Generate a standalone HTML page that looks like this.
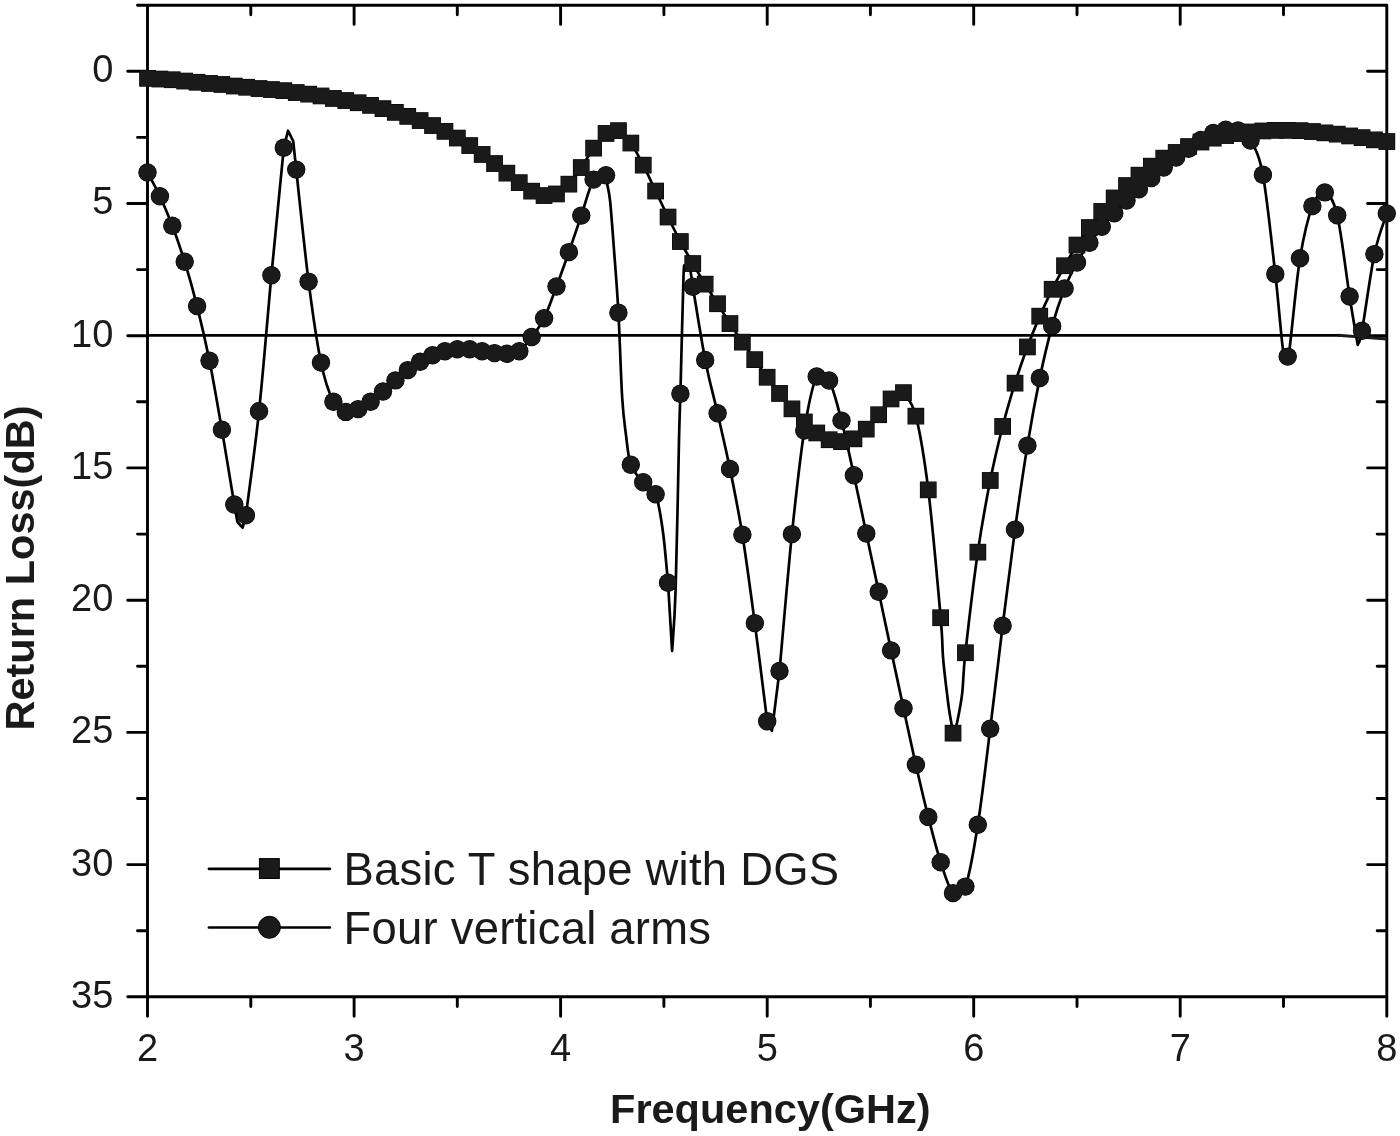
<!DOCTYPE html><html><head><meta charset="utf-8"><style>html,body{margin:0;padding:0;background:#fff;}svg{display:block;will-change:transform;}text{font-family:"Liberation Sans",sans-serif;fill:#1a1a1a;}</style></head><body>
<svg width="1400" height="1136" viewBox="0 0 1400 1136">
<rect width="1400" height="1136" fill="#fff"/>
<path d="M137.5 5.2 H1386.8 M147.5 5.2 V996.8 M1386.8 5.2 V996.8 M147.5 996.8 H1386.8 M147.5 996.8 V1016.3 M250.8 996.8 V1006.6 M250.8 5.2 V14.8 M354.1 996.8 V1016.3 M354.1 5.2 V24.4 M457.3 996.8 V1006.6 M457.3 5.2 V14.8 M560.6 996.8 V1016.3 M560.6 5.2 V24.4 M663.9 996.8 V1006.6 M663.9 5.2 V14.8 M767.2 996.8 V1016.3 M767.2 5.2 V24.4 M870.4 996.8 V1006.6 M870.4 5.2 V14.8 M973.7 996.8 V1016.3 M973.7 5.2 V24.4 M1077 996.8 V1006.6 M1077 5.2 V14.8 M1180.2 996.8 V1016.3 M1180.2 5.2 V24.4 M1283.5 996.8 V1006.6 M1283.5 5.2 V14.8 M1386.8 996.8 V1016.3 M147.5 71.3 H127.7 M1386.8 71.3 H1367.6 M147.5 137.4 H137.5 M1386.8 137.4 H1377.2 M147.5 203.5 H127.7 M1386.8 203.5 H1367.6 M147.5 269.6 H137.5 M1386.8 269.6 H1377.2 M147.5 335.7 H127.7 M1386.8 335.7 H1367.6 M147.5 401.8 H137.5 M1386.8 401.8 H1377.2 M147.5 467.9 H127.7 M1386.8 467.9 H1367.6 M147.5 534.1 H137.5 M1386.8 534.1 H1377.2 M147.5 600.2 H127.7 M1386.8 600.2 H1367.6 M147.5 666.3 H137.5 M1386.8 666.3 H1377.2 M147.5 732.4 H127.7 M1386.8 732.4 H1367.6 M147.5 798.5 H137.5 M1386.8 798.5 H1377.2 M147.5 864.6 H127.7 M1386.8 864.6 H1367.6 M147.5 930.7 H137.5 M1386.8 930.7 H1377.2 M147.5 996.8 H127.7" stroke="#000" stroke-width="2.9" fill="none" stroke-linecap="round"/>
<path d="M147.5 335.3 H1340" stroke="#000" stroke-width="2.7" fill="none"/>
<path d="M1338 335.3 L1386.8 339" stroke="#1a1a1a" stroke-width="2.9" fill="none"/>
<path d="M147.5 78.3 C149.6 78.4 155.8 78.8 159.9 79 C164 79.2 168.2 79.4 172.3 79.8 C176.4 80.1 180.5 80.6 184.7 81 C188.8 81.5 192.9 81.8 197.1 82.2 C201.2 82.7 205.3 83.1 209.5 83.5 C213.6 83.8 217.7 84 221.9 84.5 C226 84.9 230.1 85.6 234.3 86 C238.4 86.5 242.5 86.8 246.6 87.2 C250.8 87.7 254.9 88.1 259 88.5 C263.2 88.9 267.3 89.2 271.4 89.6 C275.6 90 279.7 90.2 283.8 90.7 C288 91.1 292.1 92 296.2 92.5 C300.3 93.1 304.5 93.6 308.6 94.2 C312.7 94.7 316.9 95.2 321 96 C325.1 96.7 329.3 97.7 333.4 98.5 C337.5 99.2 341.7 99.8 345.8 100.5 C349.9 101.3 354.1 102 358.2 102.8 C362.3 103.5 366.4 104.4 370.6 105.3 C374.7 106.3 378.8 107.5 383 108.7 C387.1 109.8 391.2 111.1 395.4 112.3 C399.5 113.6 403.6 114.9 407.8 116.3 C411.9 117.7 416 119 420.1 120.6 C424.3 122.1 428.4 123.8 432.5 125.6 C436.7 127.4 440.8 129.2 444.9 131.3 C449.1 133.4 453.2 135.6 457.3 138 C461.5 140.4 465.6 142.9 469.7 145.6 C473.8 148.3 478 151.4 482.1 154.4 C486.2 157.4 490.4 160.4 494.5 163.5 C498.6 166.6 502.8 169.9 506.9 173.1 C511 176.3 515.2 179.7 519.3 182.7 C523.4 185.7 527.6 189.1 531.7 191.2 C535.8 193.3 539.9 195.1 544.1 195.5 C548.2 195.9 552.3 195.8 556.5 193.9 C560.6 192 564.7 188.6 568.9 184.2 C573 179.8 577.1 173.5 581.3 167.5 C585.4 161.5 589.5 153.8 593.6 148.1 C597.8 142.4 601.9 136.3 606 133.4 C610.2 130.5 616.4 131.1 618.4 130.7 C620.5 132.8 626.7 137.2 630.8 143 C635 148.8 639.1 157.2 643.2 165.2 C647.4 173.2 651.5 182.4 655.6 191 C659.7 199.6 663.9 208.6 668 217 C672.1 225.4 676.3 233.8 680.4 241.5 C684.5 249.2 688.7 256.4 692.8 263.5 C696.9 270.6 701.1 277.5 705.2 284.2 C709.3 290.9 713.4 297.2 717.6 303.8 C721.7 310.4 725.8 317.2 730 323.6 C734.1 330 738.2 336.1 742.4 342.1 C746.5 348.1 750.6 353.8 754.8 359.7 C758.9 365.6 763 371.7 767.2 377.3 C771.3 382.9 775.4 388.2 779.5 393.5 C783.7 398.8 787.8 404.1 791.9 408.9 C796.1 413.6 800.2 418 804.3 422 C808.5 426 812.6 430 816.7 433 C820.9 436 825 438.4 829.1 439.8 C833.2 441.2 837.4 441.9 841.5 441.7 C845.6 441.5 849.8 441 853.9 438.9 C858 436.8 862.2 433.2 866.3 429.2 C870.4 425.2 874.6 419.8 878.7 414.8 C882.8 409.8 886.9 402.7 891.1 399 C895.2 395.3 901.4 393.8 903.5 392.7 C905.5 396.6 911.7 400 915.9 416.2 C920 432.4 924.1 456.3 928.3 489.9 C932.4 523.5 938.2 589.5 940.7 617.8 C943.1 646 941.9 644.8 943.2 659.4 C944.5 674 947.1 694.5 948.5 705.5 C949.9 716.5 950.9 720.3 951.8 725.3 C952.7 730.3 953.7 733.8 954.1 735.5 C954.5 733.8 955.7 728.5 956.4 725.3 C957.1 722.1 957.4 721.6 958.4 716.1 C959.4 710.6 961.1 702.9 962.3 692.3 C963.5 681.7 962.8 676.1 965.4 652.7 C968 629.3 973.7 580.8 977.8 552.1 C982 523.4 986.1 501.4 990.2 480.5 C994.4 459.6 998.5 442.7 1002.6 426.5 C1006.7 410.3 1010.9 396.4 1015 383.1 C1019.1 369.9 1023.3 358.2 1027.4 347 C1031.5 335.8 1035.7 325.7 1039.8 316.1 C1043.9 306.5 1048.1 297.7 1052.2 289.3 C1056.3 280.9 1060.5 273.2 1064.6 265.8 C1068.7 258.4 1072.8 251.4 1077 245 C1081.1 238.6 1085.2 233.2 1089.4 227.6 C1093.5 222 1097.6 216.3 1101.8 211.4 C1105.9 206.5 1110 202.2 1114.2 197.9 C1118.3 193.6 1122.4 189.4 1126.5 185.6 C1130.7 181.8 1134.8 178.3 1138.9 175.1 C1143.1 171.9 1147.2 169 1151.3 166.2 C1155.5 163.4 1159.6 160.5 1163.7 158.2 C1167.9 155.9 1172 154.3 1176.1 152.4 C1180.3 150.5 1184.4 148.3 1188.5 146.6 C1192.6 144.9 1196.8 143.4 1200.9 142 C1205 140.6 1209.2 139.2 1213.3 138.1 C1217.4 137 1221.6 136.4 1225.7 135.6 C1229.8 134.8 1234 134.1 1238.1 133.5 C1242.2 132.9 1246.3 132.3 1250.5 131.9 C1254.6 131.5 1258.7 131.2 1262.9 130.9 C1267 130.6 1271.1 130.4 1275.3 130.3 C1279.4 130.2 1283.5 130.2 1287.7 130.3 C1291.8 130.4 1295.9 130.5 1300 130.7 C1304.2 130.9 1308.3 131.2 1312.4 131.5 C1316.6 131.8 1320.7 132.4 1324.8 132.8 C1329 133.2 1333.1 133.7 1337.2 134.2 C1341.4 134.7 1345.5 135.3 1349.6 135.9 C1353.8 136.5 1357.9 137 1362 137.7 C1366.1 138.3 1370.3 139.2 1374.4 139.8 C1378.5 140.4 1384.7 141.2 1386.8 141.5" stroke="#000" stroke-width="2.7" fill="none" stroke-linejoin="round"/>
<path d="M147.5 172.5 C149.6 176.4 155.8 187.3 159.9 196.2 C164 205.1 168.2 214.9 172.3 225.8 C176.4 236.7 180.5 248.3 184.7 261.7 C188.8 275.1 192.9 289.6 197.1 306.1 C201.2 322.6 205.3 340.2 209.5 360.8 C213.6 381.4 217.7 405.8 221.9 429.7 C226 453.6 232.2 492 234.3 504.5 C234.8 507.4 236.9 518.9 237.4 521.8 C238.3 522.8 241.7 526.7 242.6 527.7 C243.2 525.6 245.3 517.3 245.9 515.2 C248.1 497.9 254.8 451.3 259 411.3 C263.3 371.3 267.3 319.2 271.4 275.3 C275.6 231.4 281.8 169 283.8 147.7 C284.5 144.9 287.3 133.5 288 130.7 C288.9 132.4 292.3 139.3 293.2 141 C293.7 145.8 295.7 164.8 296.2 169.6 C298.3 188.3 304.5 249.4 308.6 281.6 C312.7 313.8 316.9 342.6 321 362.6 C325.1 382.6 329.3 393.5 333.4 401.7 C337.5 409.9 341.7 410.7 345.8 411.9 C349.9 413.1 354.1 410.8 358.2 409.1 C362.3 407.4 366.4 404.6 370.6 401.7 C374.7 398.8 378.8 395.1 383 391.5 C387.1 387.9 391.2 384 395.4 380.4 C399.5 376.8 403.6 373.2 407.8 370.1 C411.9 367 416 364.3 420.1 361.8 C424.3 359.3 428.4 357.1 432.5 355.3 C436.7 353.5 440.8 352.2 444.9 351.2 C449.1 350.2 453.2 349.6 457.3 349.3 C461.5 349 465.6 349 469.7 349.3 C473.8 349.6 478 350.6 482.1 351.2 C486.2 351.8 490.4 352.7 494.5 353.1 C498.6 353.5 502.8 354.1 506.9 353.8 C511 353.5 515.2 354 519.3 351.2 C523.4 348.4 527.6 342.5 531.7 337 C535.8 331.5 539.9 326.7 544.1 318.3 C548.2 309.9 552.3 297.5 556.5 286.5 C560.6 275.5 564.7 263.9 568.9 252.1 C573 240.3 577.1 227.7 581.3 215.6 C585.4 203.5 589.5 186.3 593.6 179.6 C597.8 172.9 603.8 174.5 606 175.2 C608.3 175.9 606.5 179.6 607.2 184 C607.9 188.4 609.1 190.9 610.2 201.9 C611.3 212.9 612.6 231.3 614 249.8 C615.4 268.3 617.1 288.1 618.4 312.8 C619.8 337.5 620.9 377.6 622.2 398 C623.5 418.4 624.6 423.9 626 435 C627.4 446.1 628 456.9 630.8 464.8 C633.7 472.7 639.1 477.3 643.2 482.2 C647.4 487.1 653.1 490.4 655.6 494.2 C658.2 498 657.4 499.9 658.5 505 C659.6 510.1 661 518.3 662 525 C663 531.7 663.5 535.4 664.5 545 C665.5 554.6 667.4 576.5 668 582.8 C668.7 594.2 671.4 639.6 672.1 651 C672.7 640.8 674.5 625.2 675.6 590 C676.8 554.8 678.2 472.7 679 440 C679.8 407.3 680.2 401.4 680.4 393.7 C680.9 374.8 682.7 301.4 683.4 280 C684.1 258.6 684.3 267.9 684.5 265.5 C685.3 265.8 688.1 263.5 689.5 267 C690.9 270.5 692.2 283.4 692.8 286.7 C694.9 298.9 701.1 338.8 705.2 359.9 C709.3 381 713.4 395.1 717.6 413.3 C721.7 431.5 725.8 448.7 730 468.9 C734.1 489.1 738.2 509 742.4 534.7 C746.5 560.4 750.6 592 754.8 623.1 C758.9 654.2 765.1 704.9 767.2 721.3 C767.9 722.9 771.1 729.2 771.9 730.8 C773.2 720.8 778.3 681 779.5 671 C781.6 648.2 787.8 574.2 791.9 534.1 C796.1 494 800.2 456.8 804.3 430.5 C808.5 404.2 812.6 384.8 816.7 376.5 C820.9 368.2 825 373.1 829.1 380.5 C833.2 387.9 837.4 404.8 841.5 420.6 C845.6 436.4 849.8 456.4 853.9 475.2 C858 494 862.2 514.1 866.3 533.5 C870.4 552.9 874.6 572.3 878.7 591.8 C882.8 611.3 886.9 631 891.1 650.4 C895.2 669.8 899.3 689.2 903.5 708.2 C907.6 727.2 911.7 746.6 915.9 764.7 C920 782.8 924.1 800.6 928.3 816.9 C932.4 833.1 936.5 849.5 940.7 862.2 C944.8 874.9 948.9 889 953 893.1 C957.2 897.2 961.3 898 965.4 886.6 C969.6 875.2 973.7 851.1 977.8 824.8 C982 798.5 986.1 762 990.2 728.8 C994.4 695.6 998.5 659 1002.6 625.8 C1006.7 592.6 1010.9 559.6 1015 529.6 C1019.1 499.6 1023.3 470.9 1027.4 445.6 C1031.5 420.3 1035.7 397.9 1039.8 378 C1043.9 358.1 1048.1 340.8 1052.2 325.9 C1056.3 311 1060.5 299.1 1064.6 288.5 C1068.7 277.9 1072.8 270.2 1077 262.6 C1081.1 255 1085.2 248.8 1089.4 242.8 C1093.5 236.8 1097.6 231.7 1101.8 226.8 C1105.9 221.9 1110 217.7 1114.2 213.3 C1118.3 208.9 1122.4 204.6 1126.5 200.6 C1130.7 196.6 1134.8 193.1 1138.9 189.3 C1143.1 185.6 1147.2 181.7 1151.3 178.1 C1155.5 174.5 1159.6 171 1163.7 167.6 C1167.9 164.2 1172 160.7 1176.1 157.5 C1180.3 154.3 1184.4 151.6 1188.5 148.7 C1192.6 145.8 1196.8 142.6 1200.9 140 C1205 137.4 1209.2 134.7 1213.3 133 C1217.4 131.3 1221.6 130.2 1225.7 129.8 C1229.8 129.4 1234 128.6 1238.1 130.4 C1242.2 132.2 1246.3 133.1 1250.5 140.5 C1254.6 147.9 1258.7 152.6 1262.9 174.8 C1267 197.1 1271.9 245.1 1275.3 274 C1278.6 302.9 1280.9 333.8 1282.8 348.2 C1284.7 362.6 1285.8 358.4 1286.4 360.5 C1286.9 358.4 1287.3 365.2 1289.6 348.2 C1291.9 331.1 1296.2 281.9 1300 258.2 C1303.9 234.5 1308.3 217.1 1312.4 206.1 C1316.6 195.1 1320.7 190.9 1324.8 192.4 C1329 193.9 1333.1 197.8 1337.2 215.2 C1341.4 232.5 1346.2 274.9 1349.6 296.5 C1353 318.1 1356.4 336.8 1357.7 344.8 C1358.4 342.4 1359.2 345.8 1362 330.7 C1364.8 315.6 1370.3 273.6 1374.4 254.1 C1378.5 234.6 1384.7 220.2 1386.8 213.4" stroke="#000" stroke-width="2.7" fill="none" stroke-linejoin="round"/>
<g fill="#000">
<rect x="139.2" y="70" width="16.7" height="16.7"/>
<rect x="151.5" y="70.7" width="16.7" height="16.7"/>
<rect x="163.9" y="71.4" width="16.7" height="16.7"/>
<rect x="176.3" y="72.7" width="16.7" height="16.7"/>
<rect x="188.7" y="73.9" width="16.7" height="16.7"/>
<rect x="201.1" y="75.1" width="16.7" height="16.7"/>
<rect x="213.5" y="76.1" width="16.7" height="16.7"/>
<rect x="225.9" y="77.7" width="16.7" height="16.7"/>
<rect x="238.3" y="78.9" width="16.7" height="16.7"/>
<rect x="250.7" y="80.2" width="16.7" height="16.7"/>
<rect x="263.1" y="81.2" width="16.7" height="16.7"/>
<rect x="275.5" y="82.3" width="16.7" height="16.7"/>
<rect x="287.9" y="84.2" width="16.7" height="16.7"/>
<rect x="300.3" y="85.8" width="16.7" height="16.7"/>
<rect x="312.7" y="87.6" width="16.7" height="16.7"/>
<rect x="325" y="90.1" width="16.7" height="16.7"/>
<rect x="337.4" y="92.2" width="16.7" height="16.7"/>
<rect x="349.8" y="94.4" width="16.7" height="16.7"/>
<rect x="362.2" y="97" width="16.7" height="16.7"/>
<rect x="374.6" y="100.3" width="16.7" height="16.7"/>
<rect x="387" y="104" width="16.7" height="16.7"/>
<rect x="399.4" y="108" width="16.7" height="16.7"/>
<rect x="411.8" y="112.2" width="16.7" height="16.7"/>
<rect x="424.2" y="117.2" width="16.7" height="16.7"/>
<rect x="436.6" y="123" width="16.7" height="16.7"/>
<rect x="449" y="129.7" width="16.7" height="16.7"/>
<rect x="461.4" y="137.2" width="16.7" height="16.7"/>
<rect x="473.8" y="146.1" width="16.7" height="16.7"/>
<rect x="486.2" y="155.2" width="16.7" height="16.7"/>
<rect x="498.5" y="164.8" width="16.7" height="16.7"/>
<rect x="510.9" y="174.3" width="16.7" height="16.7"/>
<rect x="523.3" y="182.8" width="16.7" height="16.7"/>
<rect x="535.7" y="187.2" width="16.7" height="16.7"/>
<rect x="548.1" y="185.6" width="16.7" height="16.7"/>
<rect x="560.5" y="175.8" width="16.7" height="16.7"/>
<rect x="572.9" y="159.2" width="16.7" height="16.7"/>
<rect x="585.3" y="139.8" width="16.7" height="16.7"/>
<rect x="597.7" y="125.1" width="16.7" height="16.7"/>
<rect x="610.1" y="122.3" width="16.7" height="16.7"/>
<rect x="622.5" y="134.7" width="16.7" height="16.7"/>
<rect x="634.9" y="156.8" width="16.7" height="16.7"/>
<rect x="647.3" y="182.7" width="16.7" height="16.7"/>
<rect x="659.7" y="208.7" width="16.7" height="16.7"/>
<rect x="672" y="233.2" width="16.7" height="16.7"/>
<rect x="684.4" y="255.2" width="16.7" height="16.7"/>
<rect x="696.8" y="275.8" width="16.7" height="16.7"/>
<rect x="709.2" y="295.4" width="16.7" height="16.7"/>
<rect x="721.6" y="315.2" width="16.7" height="16.7"/>
<rect x="734" y="333.8" width="16.7" height="16.7"/>
<rect x="746.4" y="351.3" width="16.7" height="16.7"/>
<rect x="758.8" y="368.9" width="16.7" height="16.7"/>
<rect x="771.2" y="385.1" width="16.7" height="16.7"/>
<rect x="783.6" y="400.5" width="16.7" height="16.7"/>
<rect x="796" y="413.6" width="16.7" height="16.7"/>
<rect x="808.4" y="424.6" width="16.7" height="16.7"/>
<rect x="820.8" y="431.4" width="16.7" height="16.7"/>
<rect x="833.2" y="433.3" width="16.7" height="16.7"/>
<rect x="845.6" y="430.5" width="16.7" height="16.7"/>
<rect x="857.9" y="420.8" width="16.7" height="16.7"/>
<rect x="870.3" y="406.4" width="16.7" height="16.7"/>
<rect x="882.7" y="390.6" width="16.7" height="16.7"/>
<rect x="895.1" y="384.3" width="16.7" height="16.7"/>
<rect x="907.5" y="407.8" width="16.7" height="16.7"/>
<rect x="919.9" y="481.5" width="16.7" height="16.7"/>
<rect x="932.3" y="609.4" width="16.7" height="16.7"/>
<rect x="944.7" y="724.8" width="16.7" height="16.7"/>
<rect x="957.1" y="644.4" width="16.7" height="16.7"/>
<rect x="969.5" y="543.8" width="16.7" height="16.7"/>
<rect x="981.9" y="472.1" width="16.7" height="16.7"/>
<rect x="994.3" y="418.1" width="16.7" height="16.7"/>
<rect x="1006.7" y="374.8" width="16.7" height="16.7"/>
<rect x="1019.1" y="338.6" width="16.7" height="16.7"/>
<rect x="1031.4" y="307.8" width="16.7" height="16.7"/>
<rect x="1043.8" y="280.9" width="16.7" height="16.7"/>
<rect x="1056.2" y="257.4" width="16.7" height="16.7"/>
<rect x="1068.6" y="236.7" width="16.7" height="16.7"/>
<rect x="1081" y="219.2" width="16.7" height="16.7"/>
<rect x="1093.4" y="203.1" width="16.7" height="16.7"/>
<rect x="1105.8" y="189.6" width="16.7" height="16.7"/>
<rect x="1118.2" y="177.2" width="16.7" height="16.7"/>
<rect x="1130.6" y="166.8" width="16.7" height="16.7"/>
<rect x="1143" y="157.8" width="16.7" height="16.7"/>
<rect x="1155.4" y="149.8" width="16.7" height="16.7"/>
<rect x="1167.8" y="144.1" width="16.7" height="16.7"/>
<rect x="1180.2" y="138.2" width="16.7" height="16.7"/>
<rect x="1192.6" y="133.7" width="16.7" height="16.7"/>
<rect x="1204.9" y="129.8" width="16.7" height="16.7"/>
<rect x="1217.3" y="127.2" width="16.7" height="16.7"/>
<rect x="1229.7" y="125.2" width="16.7" height="16.7"/>
<rect x="1242.1" y="123.6" width="16.7" height="16.7"/>
<rect x="1254.5" y="122.6" width="16.7" height="16.7"/>
<rect x="1266.9" y="122" width="16.7" height="16.7"/>
<rect x="1279.3" y="122" width="16.7" height="16.7"/>
<rect x="1291.7" y="122.3" width="16.7" height="16.7"/>
<rect x="1304.1" y="123.2" width="16.7" height="16.7"/>
<rect x="1316.5" y="124.5" width="16.7" height="16.7"/>
<rect x="1328.9" y="125.8" width="16.7" height="16.7"/>
<rect x="1341.3" y="127.6" width="16.7" height="16.7"/>
<rect x="1353.7" y="129.3" width="16.7" height="16.7"/>
<rect x="1366.1" y="131.5" width="16.7" height="16.7"/>
<rect x="1378.5" y="133.2" width="16.7" height="16.7"/>
<circle cx="147.5" cy="172.5" r="9.2"/>
<circle cx="159.9" cy="196.2" r="9.2"/>
<circle cx="172.3" cy="225.8" r="9.2"/>
<circle cx="184.7" cy="261.7" r="9.2"/>
<circle cx="197.1" cy="306.1" r="9.2"/>
<circle cx="209.5" cy="360.8" r="9.2"/>
<circle cx="221.9" cy="429.7" r="9.2"/>
<circle cx="234.3" cy="504.5" r="9.2"/>
<circle cx="245.9" cy="515.2" r="9.2"/>
<circle cx="259" cy="411.3" r="9.2"/>
<circle cx="271.4" cy="275.3" r="9.2"/>
<circle cx="283.8" cy="147.7" r="9.2"/>
<circle cx="296.2" cy="169.6" r="9.2"/>
<circle cx="308.6" cy="281.6" r="9.2"/>
<circle cx="321" cy="362.6" r="9.2"/>
<circle cx="333.4" cy="401.7" r="9.2"/>
<circle cx="345.8" cy="411.9" r="9.2"/>
<circle cx="358.2" cy="409.1" r="9.2"/>
<circle cx="370.6" cy="401.7" r="9.2"/>
<circle cx="383" cy="391.5" r="9.2"/>
<circle cx="395.4" cy="380.4" r="9.2"/>
<circle cx="407.8" cy="370.1" r="9.2"/>
<circle cx="420.1" cy="361.8" r="9.2"/>
<circle cx="432.5" cy="355.3" r="9.2"/>
<circle cx="444.9" cy="351.2" r="9.2"/>
<circle cx="457.3" cy="349.3" r="9.2"/>
<circle cx="469.7" cy="349.3" r="9.2"/>
<circle cx="482.1" cy="351.2" r="9.2"/>
<circle cx="494.5" cy="353.1" r="9.2"/>
<circle cx="506.9" cy="353.8" r="9.2"/>
<circle cx="519.3" cy="351.2" r="9.2"/>
<circle cx="531.7" cy="337" r="9.2"/>
<circle cx="544.1" cy="318.3" r="9.2"/>
<circle cx="556.5" cy="286.5" r="9.2"/>
<circle cx="568.9" cy="252.1" r="9.2"/>
<circle cx="581.3" cy="215.6" r="9.2"/>
<circle cx="593.6" cy="179.6" r="9.2"/>
<circle cx="606" cy="175.2" r="9.2"/>
<circle cx="618.4" cy="312.8" r="9.2"/>
<circle cx="630.8" cy="464.8" r="9.2"/>
<circle cx="643.2" cy="482.2" r="9.2"/>
<circle cx="655.6" cy="494.2" r="9.2"/>
<circle cx="668" cy="582.8" r="9.2"/>
<circle cx="680.4" cy="393.7" r="9.2"/>
<circle cx="692.8" cy="286.7" r="9.2"/>
<circle cx="705.2" cy="359.9" r="9.2"/>
<circle cx="717.6" cy="413.3" r="9.2"/>
<circle cx="730" cy="468.9" r="9.2"/>
<circle cx="742.4" cy="534.7" r="9.2"/>
<circle cx="754.8" cy="623.1" r="9.2"/>
<circle cx="767.2" cy="721.3" r="9.2"/>
<circle cx="779.5" cy="671" r="9.2"/>
<circle cx="791.9" cy="534.1" r="9.2"/>
<circle cx="804.3" cy="430.5" r="9.2"/>
<circle cx="816.7" cy="376.5" r="9.2"/>
<circle cx="829.1" cy="380.5" r="9.2"/>
<circle cx="841.5" cy="420.6" r="9.2"/>
<circle cx="853.9" cy="475.2" r="9.2"/>
<circle cx="866.3" cy="533.5" r="9.2"/>
<circle cx="878.7" cy="591.8" r="9.2"/>
<circle cx="891.1" cy="650.4" r="9.2"/>
<circle cx="903.5" cy="708.2" r="9.2"/>
<circle cx="915.9" cy="764.7" r="9.2"/>
<circle cx="928.3" cy="816.9" r="9.2"/>
<circle cx="940.7" cy="862.2" r="9.2"/>
<circle cx="953" cy="893.1" r="9.2"/>
<circle cx="965.4" cy="886.6" r="9.2"/>
<circle cx="977.8" cy="824.8" r="9.2"/>
<circle cx="990.2" cy="728.8" r="9.2"/>
<circle cx="1002.6" cy="625.8" r="9.2"/>
<circle cx="1015" cy="529.6" r="9.2"/>
<circle cx="1027.4" cy="445.6" r="9.2"/>
<circle cx="1039.8" cy="378" r="9.2"/>
<circle cx="1052.2" cy="325.9" r="9.2"/>
<circle cx="1064.6" cy="288.5" r="9.2"/>
<circle cx="1077" cy="262.6" r="9.2"/>
<circle cx="1089.4" cy="242.8" r="9.2"/>
<circle cx="1101.8" cy="226.8" r="9.2"/>
<circle cx="1114.2" cy="213.3" r="9.2"/>
<circle cx="1126.5" cy="200.6" r="9.2"/>
<circle cx="1138.9" cy="189.3" r="9.2"/>
<circle cx="1151.3" cy="178.1" r="9.2"/>
<circle cx="1163.7" cy="167.6" r="9.2"/>
<circle cx="1176.1" cy="157.5" r="9.2"/>
<circle cx="1188.5" cy="148.7" r="9.2"/>
<circle cx="1200.9" cy="140" r="9.2"/>
<circle cx="1213.3" cy="133" r="9.2"/>
<circle cx="1225.7" cy="129.8" r="9.2"/>
<circle cx="1238.1" cy="130.4" r="9.2"/>
<circle cx="1250.5" cy="140.5" r="9.2"/>
<circle cx="1262.9" cy="174.8" r="9.2"/>
<circle cx="1275.3" cy="274" r="9.2"/>
<circle cx="1287.7" cy="356.6" r="9.2"/>
<circle cx="1300" cy="258.2" r="9.2"/>
<circle cx="1312.4" cy="206.1" r="9.2"/>
<circle cx="1324.8" cy="192.4" r="9.2"/>
<circle cx="1337.2" cy="215.2" r="9.2"/>
<circle cx="1349.6" cy="296.5" r="9.2"/>
<circle cx="1362" cy="330.7" r="9.2"/>
<circle cx="1374.4" cy="254.1" r="9.2"/>
<circle cx="1386.8" cy="213.4" r="9.2"/>
</g><g fill="#1a1a1a">
<rect x="139.7" y="70.5" width="15.7" height="15.7"/>
<rect x="152" y="71.2" width="15.7" height="15.7"/>
<rect x="164.4" y="71.9" width="15.7" height="15.7"/>
<rect x="176.8" y="73.2" width="15.7" height="15.7"/>
<rect x="189.2" y="74.4" width="15.7" height="15.7"/>
<rect x="201.6" y="75.6" width="15.7" height="15.7"/>
<rect x="214" y="76.6" width="15.7" height="15.7"/>
<rect x="226.4" y="78.2" width="15.7" height="15.7"/>
<rect x="238.8" y="79.4" width="15.7" height="15.7"/>
<rect x="251.2" y="80.7" width="15.7" height="15.7"/>
<rect x="263.6" y="81.8" width="15.7" height="15.7"/>
<rect x="276" y="82.8" width="15.7" height="15.7"/>
<rect x="288.4" y="84.7" width="15.7" height="15.7"/>
<rect x="300.8" y="86.3" width="15.7" height="15.7"/>
<rect x="313.2" y="88.1" width="15.7" height="15.7"/>
<rect x="325.5" y="90.6" width="15.7" height="15.7"/>
<rect x="337.9" y="92.7" width="15.7" height="15.7"/>
<rect x="350.3" y="94.9" width="15.7" height="15.7"/>
<rect x="362.7" y="97.5" width="15.7" height="15.7"/>
<rect x="375.1" y="100.8" width="15.7" height="15.7"/>
<rect x="387.5" y="104.5" width="15.7" height="15.7"/>
<rect x="399.9" y="108.5" width="15.7" height="15.7"/>
<rect x="412.3" y="112.8" width="15.7" height="15.7"/>
<rect x="424.7" y="117.8" width="15.7" height="15.7"/>
<rect x="437.1" y="123.5" width="15.7" height="15.7"/>
<rect x="449.5" y="130.2" width="15.7" height="15.7"/>
<rect x="461.9" y="137.8" width="15.7" height="15.7"/>
<rect x="474.3" y="146.6" width="15.7" height="15.7"/>
<rect x="486.7" y="155.7" width="15.7" height="15.7"/>
<rect x="499" y="165.2" width="15.7" height="15.7"/>
<rect x="511.4" y="174.8" width="15.7" height="15.7"/>
<rect x="523.8" y="183.3" width="15.7" height="15.7"/>
<rect x="536.2" y="187.7" width="15.7" height="15.7"/>
<rect x="548.6" y="186.1" width="15.7" height="15.7"/>
<rect x="561" y="176.3" width="15.7" height="15.7"/>
<rect x="573.4" y="159.7" width="15.7" height="15.7"/>
<rect x="585.8" y="140.2" width="15.7" height="15.7"/>
<rect x="598.2" y="125.6" width="15.7" height="15.7"/>
<rect x="610.6" y="122.8" width="15.7" height="15.7"/>
<rect x="623" y="135.2" width="15.7" height="15.7"/>
<rect x="635.4" y="157.3" width="15.7" height="15.7"/>
<rect x="647.8" y="183.2" width="15.7" height="15.7"/>
<rect x="660.2" y="209.2" width="15.7" height="15.7"/>
<rect x="672.5" y="233.7" width="15.7" height="15.7"/>
<rect x="684.9" y="255.7" width="15.7" height="15.7"/>
<rect x="697.3" y="276.3" width="15.7" height="15.7"/>
<rect x="709.7" y="295.9" width="15.7" height="15.7"/>
<rect x="722.1" y="315.8" width="15.7" height="15.7"/>
<rect x="734.5" y="334.2" width="15.7" height="15.7"/>
<rect x="746.9" y="351.8" width="15.7" height="15.7"/>
<rect x="759.3" y="369.4" width="15.7" height="15.7"/>
<rect x="771.7" y="385.6" width="15.7" height="15.7"/>
<rect x="784.1" y="401" width="15.7" height="15.7"/>
<rect x="796.5" y="414.1" width="15.7" height="15.7"/>
<rect x="808.9" y="425.1" width="15.7" height="15.7"/>
<rect x="821.3" y="431.9" width="15.7" height="15.7"/>
<rect x="833.7" y="433.8" width="15.7" height="15.7"/>
<rect x="846.1" y="431" width="15.7" height="15.7"/>
<rect x="858.4" y="421.3" width="15.7" height="15.7"/>
<rect x="870.8" y="406.9" width="15.7" height="15.7"/>
<rect x="883.2" y="391.1" width="15.7" height="15.7"/>
<rect x="895.6" y="384.8" width="15.7" height="15.7"/>
<rect x="908" y="408.3" width="15.7" height="15.7"/>
<rect x="920.4" y="482" width="15.7" height="15.7"/>
<rect x="932.8" y="609.9" width="15.7" height="15.7"/>
<rect x="945.2" y="725.2" width="15.7" height="15.7"/>
<rect x="957.6" y="644.9" width="15.7" height="15.7"/>
<rect x="970" y="544.2" width="15.7" height="15.7"/>
<rect x="982.4" y="472.6" width="15.7" height="15.7"/>
<rect x="994.8" y="418.6" width="15.7" height="15.7"/>
<rect x="1007.2" y="375.2" width="15.7" height="15.7"/>
<rect x="1019.6" y="339.1" width="15.7" height="15.7"/>
<rect x="1031.9" y="308.2" width="15.7" height="15.7"/>
<rect x="1044.3" y="281.4" width="15.7" height="15.7"/>
<rect x="1056.7" y="257.9" width="15.7" height="15.7"/>
<rect x="1069.1" y="237.2" width="15.7" height="15.7"/>
<rect x="1081.5" y="219.8" width="15.7" height="15.7"/>
<rect x="1093.9" y="203.6" width="15.7" height="15.7"/>
<rect x="1106.3" y="190.1" width="15.7" height="15.7"/>
<rect x="1118.7" y="177.8" width="15.7" height="15.7"/>
<rect x="1131.1" y="167.2" width="15.7" height="15.7"/>
<rect x="1143.5" y="158.3" width="15.7" height="15.7"/>
<rect x="1155.9" y="150.3" width="15.7" height="15.7"/>
<rect x="1168.3" y="144.6" width="15.7" height="15.7"/>
<rect x="1180.7" y="138.8" width="15.7" height="15.7"/>
<rect x="1193.1" y="134.2" width="15.7" height="15.7"/>
<rect x="1205.4" y="130.2" width="15.7" height="15.7"/>
<rect x="1217.8" y="127.8" width="15.7" height="15.7"/>
<rect x="1230.2" y="125.7" width="15.7" height="15.7"/>
<rect x="1242.6" y="124.1" width="15.7" height="15.7"/>
<rect x="1255" y="123.1" width="15.7" height="15.7"/>
<rect x="1267.4" y="122.5" width="15.7" height="15.7"/>
<rect x="1279.8" y="122.5" width="15.7" height="15.7"/>
<rect x="1292.2" y="122.8" width="15.7" height="15.7"/>
<rect x="1304.6" y="123.7" width="15.7" height="15.7"/>
<rect x="1317" y="125" width="15.7" height="15.7"/>
<rect x="1329.4" y="126.3" width="15.7" height="15.7"/>
<rect x="1341.8" y="128.1" width="15.7" height="15.7"/>
<rect x="1354.2" y="129.8" width="15.7" height="15.7"/>
<rect x="1366.6" y="132" width="15.7" height="15.7"/>
<rect x="1379" y="133.7" width="15.7" height="15.7"/>
<circle cx="147.5" cy="172.5" r="8.7"/>
<circle cx="159.9" cy="196.2" r="8.7"/>
<circle cx="172.3" cy="225.8" r="8.7"/>
<circle cx="184.7" cy="261.7" r="8.7"/>
<circle cx="197.1" cy="306.1" r="8.7"/>
<circle cx="209.5" cy="360.8" r="8.7"/>
<circle cx="221.9" cy="429.7" r="8.7"/>
<circle cx="234.3" cy="504.5" r="8.7"/>
<circle cx="245.9" cy="515.2" r="8.7"/>
<circle cx="259" cy="411.3" r="8.7"/>
<circle cx="271.4" cy="275.3" r="8.7"/>
<circle cx="283.8" cy="147.7" r="8.7"/>
<circle cx="296.2" cy="169.6" r="8.7"/>
<circle cx="308.6" cy="281.6" r="8.7"/>
<circle cx="321" cy="362.6" r="8.7"/>
<circle cx="333.4" cy="401.7" r="8.7"/>
<circle cx="345.8" cy="411.9" r="8.7"/>
<circle cx="358.2" cy="409.1" r="8.7"/>
<circle cx="370.6" cy="401.7" r="8.7"/>
<circle cx="383" cy="391.5" r="8.7"/>
<circle cx="395.4" cy="380.4" r="8.7"/>
<circle cx="407.8" cy="370.1" r="8.7"/>
<circle cx="420.1" cy="361.8" r="8.7"/>
<circle cx="432.5" cy="355.3" r="8.7"/>
<circle cx="444.9" cy="351.2" r="8.7"/>
<circle cx="457.3" cy="349.3" r="8.7"/>
<circle cx="469.7" cy="349.3" r="8.7"/>
<circle cx="482.1" cy="351.2" r="8.7"/>
<circle cx="494.5" cy="353.1" r="8.7"/>
<circle cx="506.9" cy="353.8" r="8.7"/>
<circle cx="519.3" cy="351.2" r="8.7"/>
<circle cx="531.7" cy="337" r="8.7"/>
<circle cx="544.1" cy="318.3" r="8.7"/>
<circle cx="556.5" cy="286.5" r="8.7"/>
<circle cx="568.9" cy="252.1" r="8.7"/>
<circle cx="581.3" cy="215.6" r="8.7"/>
<circle cx="593.6" cy="179.6" r="8.7"/>
<circle cx="606" cy="175.2" r="8.7"/>
<circle cx="618.4" cy="312.8" r="8.7"/>
<circle cx="630.8" cy="464.8" r="8.7"/>
<circle cx="643.2" cy="482.2" r="8.7"/>
<circle cx="655.6" cy="494.2" r="8.7"/>
<circle cx="668" cy="582.8" r="8.7"/>
<circle cx="680.4" cy="393.7" r="8.7"/>
<circle cx="692.8" cy="286.7" r="8.7"/>
<circle cx="705.2" cy="359.9" r="8.7"/>
<circle cx="717.6" cy="413.3" r="8.7"/>
<circle cx="730" cy="468.9" r="8.7"/>
<circle cx="742.4" cy="534.7" r="8.7"/>
<circle cx="754.8" cy="623.1" r="8.7"/>
<circle cx="767.2" cy="721.3" r="8.7"/>
<circle cx="779.5" cy="671" r="8.7"/>
<circle cx="791.9" cy="534.1" r="8.7"/>
<circle cx="804.3" cy="430.5" r="8.7"/>
<circle cx="816.7" cy="376.5" r="8.7"/>
<circle cx="829.1" cy="380.5" r="8.7"/>
<circle cx="841.5" cy="420.6" r="8.7"/>
<circle cx="853.9" cy="475.2" r="8.7"/>
<circle cx="866.3" cy="533.5" r="8.7"/>
<circle cx="878.7" cy="591.8" r="8.7"/>
<circle cx="891.1" cy="650.4" r="8.7"/>
<circle cx="903.5" cy="708.2" r="8.7"/>
<circle cx="915.9" cy="764.7" r="8.7"/>
<circle cx="928.3" cy="816.9" r="8.7"/>
<circle cx="940.7" cy="862.2" r="8.7"/>
<circle cx="953" cy="893.1" r="8.7"/>
<circle cx="965.4" cy="886.6" r="8.7"/>
<circle cx="977.8" cy="824.8" r="8.7"/>
<circle cx="990.2" cy="728.8" r="8.7"/>
<circle cx="1002.6" cy="625.8" r="8.7"/>
<circle cx="1015" cy="529.6" r="8.7"/>
<circle cx="1027.4" cy="445.6" r="8.7"/>
<circle cx="1039.8" cy="378" r="8.7"/>
<circle cx="1052.2" cy="325.9" r="8.7"/>
<circle cx="1064.6" cy="288.5" r="8.7"/>
<circle cx="1077" cy="262.6" r="8.7"/>
<circle cx="1089.4" cy="242.8" r="8.7"/>
<circle cx="1101.8" cy="226.8" r="8.7"/>
<circle cx="1114.2" cy="213.3" r="8.7"/>
<circle cx="1126.5" cy="200.6" r="8.7"/>
<circle cx="1138.9" cy="189.3" r="8.7"/>
<circle cx="1151.3" cy="178.1" r="8.7"/>
<circle cx="1163.7" cy="167.6" r="8.7"/>
<circle cx="1176.1" cy="157.5" r="8.7"/>
<circle cx="1188.5" cy="148.7" r="8.7"/>
<circle cx="1200.9" cy="140" r="8.7"/>
<circle cx="1213.3" cy="133" r="8.7"/>
<circle cx="1225.7" cy="129.8" r="8.7"/>
<circle cx="1238.1" cy="130.4" r="8.7"/>
<circle cx="1250.5" cy="140.5" r="8.7"/>
<circle cx="1262.9" cy="174.8" r="8.7"/>
<circle cx="1275.3" cy="274" r="8.7"/>
<circle cx="1287.7" cy="356.6" r="8.7"/>
<circle cx="1300" cy="258.2" r="8.7"/>
<circle cx="1312.4" cy="206.1" r="8.7"/>
<circle cx="1324.8" cy="192.4" r="8.7"/>
<circle cx="1337.2" cy="215.2" r="8.7"/>
<circle cx="1349.6" cy="296.5" r="8.7"/>
<circle cx="1362" cy="330.7" r="8.7"/>
<circle cx="1374.4" cy="254.1" r="8.7"/>
<circle cx="1386.8" cy="213.4" r="8.7"/>
</g>
<text x="147.5" y="1060.5" font-size="38" text-anchor="middle">2</text>
<text x="354.1" y="1060.5" font-size="38" text-anchor="middle">3</text>
<text x="560.6" y="1060.5" font-size="38" text-anchor="middle">4</text>
<text x="767.2" y="1060.5" font-size="38" text-anchor="middle">5</text>
<text x="973.7" y="1060.5" font-size="38" text-anchor="middle">6</text>
<text x="1180.2" y="1060.5" font-size="38" text-anchor="middle">7</text>
<text x="1386.8" y="1060.5" font-size="38" text-anchor="middle">8</text>
<text x="113.3" y="82.2" font-size="38" text-anchor="end">0</text>
<text x="113.3" y="214.4" font-size="38" text-anchor="end">5</text>
<text x="113.3" y="346.6" font-size="38" text-anchor="end">10</text>
<text x="113.3" y="478.8" font-size="38" text-anchor="end">15</text>
<text x="113.3" y="611.1" font-size="38" text-anchor="end">20</text>
<text x="113.3" y="743.3" font-size="38" text-anchor="end">25</text>
<text x="113.3" y="875.5" font-size="38" text-anchor="end">30</text>
<text x="113.3" y="1007.7" font-size="38" text-anchor="end">35</text>
<text x="770.3" y="1123" font-size="41.5" font-weight="bold" text-anchor="middle">Frequency(GHz)</text>
<text transform="translate(34.2 568) rotate(-90)" x="0" y="0" font-size="41.5" font-weight="bold" text-anchor="middle">Return Loss(dB)</text>
<path d="M208.9 868.8 H329.9 M208.9 927.5 H329.9" stroke="#000" stroke-width="2.7" stroke-linecap="round"/>
<rect x="259.4" y="858.6" width="19.9" height="19.9" fill="#1a1a1a" stroke="#000" stroke-width="1"/>
<circle cx="269.4" cy="927.3" r="11" fill="#1a1a1a" stroke="#000" stroke-width="1"/>
<text x="343.5" y="885.1" font-size="45.4" letter-spacing="0.25">Basic T shape with DGS</text>
<text x="343.5" y="944" font-size="45.4" letter-spacing="0.25">Four vertical arms</text>
</svg></body></html>
